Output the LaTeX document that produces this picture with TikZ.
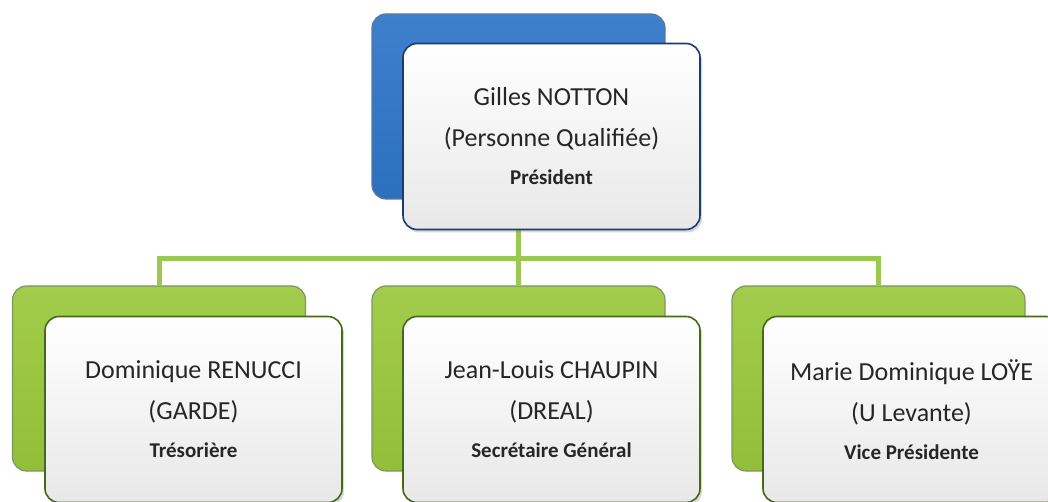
\documentclass[tikz,border=0pt]{standalone}
\usepackage{fontspec}
\setmainfont{Carlito}
\usetikzlibrary{shadows,backgrounds}
\definecolor{presblue}{RGB}{46,117,200}
\definecolor{presedge}{RGB}{25,60,115}
\definecolor{bureaugreen}{RGB}{154,200,60}
\definecolor{bureauedge}{RGB}{70,105,25}
\definecolor{linkgreen}{RGB}{155,200,80}
\tikzset{
  backbox/.style={rounded corners=14pt, minimum width=293pt, minimum height=185pt,
    line width=1.2pt, inner sep=0pt},
  bluebox/.style={backbox, draw=presedge!70, top color=presblue!92!white,
    bottom color=presblue!95!black},
  greenbox/.style={backbox, draw=bureauedge!70, top color=bureaugreen!92!white,
    bottom color=bureaugreen!95!black},
  frontbox/.style={rounded corners=14pt, minimum width=297pt, minimum height=186pt,
    line width=1.6pt, inner sep=0pt, top color=white, bottom color=black!9,
    align=center, text=black!85, font=\fontsize{26}{41}\selectfont,
    drop shadow={opacity=0.3, shadow xshift=2pt, shadow yshift=-3pt}},
  presfront/.style={frontbox, draw=presedge},
  greenfront/.style={frontbox, draw=bureauedge},
  link/.style={draw=linkgreen, line width=5pt}
}
\newcommand{\rolename}[1]{{\fontsize{21}{24}\selectfont\bfseries #1}}
\begin{document}
\begin{tikzpicture}[x=1pt, y=-1pt]
  \useasboundingbox (0,0) rectangle (1048,502);
  % president
  \node[bluebox] (presback) at (518.5,106.5) {};
  \node[presfront] (pres) at (551.5,136.5)
    {Gilles NOTTON\\(Personne Qualifiée)\\[-3pt]\rolename{Président}};
  % bureau
  \node[greenbox] (tresback) at (159,378.5) {};
  \node[greenfront] (tres) at (193.5,409.5)
    {Dominique RENUCCI\\(GARDE)\\[-3pt]\rolename{Trésorière}};
  \node[greenbox] (sgback) at (518.5,378.5) {};
  \node[greenfront] (sg) at (551.5,409.5)
    {Jean-Louis CHAUPIN\\(DREAL)\\[-3pt]\rolename{Secrétaire Général}};
  \node[greenbox] (vpback) at (878.5,378.5) {};
  \node[greenfront] (vp) at (911.5,409.5)
    {Marie Dominique LOŸE\\(U Levante)\\[-3pt]\rolename{Vice Présidente}};
  % links
  \coordinate (bus) at (518.5,259);
  \begin{scope}[on background layer]
    \draw[link] (presback.south) -- (bus) -| (tresback.north);
    \draw[link] (bus) -| (vpback.north);
    \draw[link] (bus) -- (sgback.north);
  \end{scope}
\end{tikzpicture}
\end{document}
